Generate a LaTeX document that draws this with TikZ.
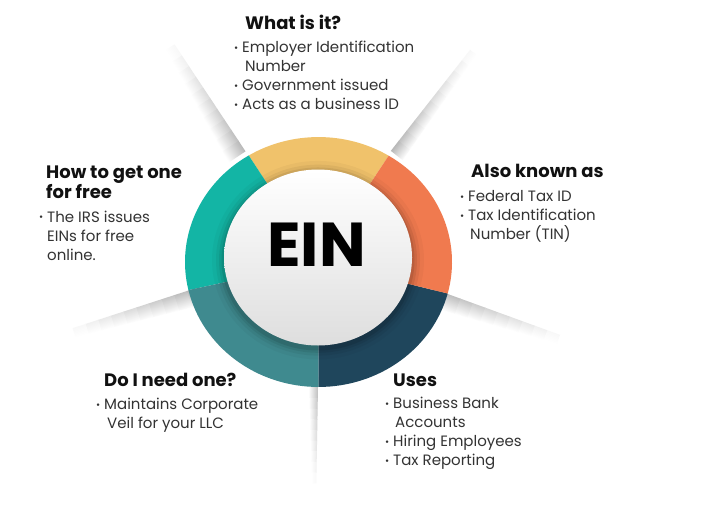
\documentclass[tikz,border=0pt]{standalone}
\usepackage{fontspec}
\setmainfont{Poppins}
\usetikzlibrary{positioning}

\definecolor{segyellow}{HTML}{F0C26B}
\definecolor{segorange}{HTML}{F07A4F}
\definecolor{segnavy}{HTML}{1F465C}
\definecolor{segslate}{HTML}{3F8A8F}
\definecolor{segteal}{HTML}{13B5A5}
\definecolor{headtext}{HTML}{111111}
\definecolor{bodytext}{HTML}{333333}

\newcommand\bul{\makebox[0pt][r]{\raisebox{1.2pt}{\fontsize{10}{10}\selectfont\textbullet}\hspace{4pt}}}

% x, y, angle, length, width, side
\newcommand\drawray[6]{%
  \begin{scope}[transform canvas={shift={(#1,#2)}, rotate=#3, yscale=#6}]
    \foreach \k in {0,...,9}{
      \pgfmathsetmacro\rayshade{28*(1-\k/10)}
      \pgfmathsetmacro\xa{-10+\k*(#4+10)/10}
      \pgfmathsetmacro\xb{-10+(\k+1)*(#4+10)/10+0.4}
      \pgfmathsetmacro\wa{#5*(1-0.05*\k)}
      \pgfmathsetmacro\wb{#5*(1-0.05*(\k+1))}
      \shade[bottom color=black!\rayshade, top color=white] (\xa,0) -- (\xb,0) -- (\xb,\wb) -- (\xa,\wa) -- cycle;
    }
  \end{scope}}

\begin{document}
\begin{tikzpicture}[
  x=1pt, y=1pt,
  head/.style={font=\fontsize{18}{18}\selectfont\bfseries, text=headtext, align=left, inner sep=0pt, anchor=north west},
  body/.style={font=\fontsize{15}{19}\selectfont, text=bodytext, align=left, inner sep=0pt},
  title/.style={font=\fontsize{62}{62}\selectfont\bfseries, text=black, inner sep=0pt}
]
\fill[white] (0,-507) rectangle (708,0);
\useasboundingbox (0,-507) rectangle (708,0);

% Rays
\drawray{240}{-143}{123.6}{118}{20}{1}
\drawray{397}{-143}{51.9}{118}{15}{-1}
\drawray{445}{-293}{-20}{122}{18}{-1}
\drawray{190}{-290}{198}{123}{18}{1}
\drawray{318}{-387}{-91}{96}{10}{-1}

% Ring
\begin{scope}[shift={(318.5,-262)}, yscale=0.936]
  \foreach \a/\b/\c in {58.3/121.5/segyellow, 121.5/193/segteal, 193/270/segslate, 270/345.4/segnavy, -14.6/58.3/segorange}
    \fill[\c] (0,0) -- (\a:133.5) arc[start angle=\a, end angle=\b, radius=133.5] -- cycle;
  \foreach \r/\o in {106/0.03, 102/0.05, 99/0.07, 96.5/0.09}
    \fill[black, opacity=\o] (-0.5,2) circle[radius=\r];
  \shade[top color=white, middle color=white, bottom color=black!13] (-0.5,4.8) circle[radius=94];
\end{scope}
\node[title] (ein) at (316.5,-245) {EIN};

% What is it
\node[head] (what) at (245,-14.4) {\strut What is it?};
\node[body, below right=4.3pt and -3pt of what.south west] (whatlist)
  {\strut\bul Employer Identification\\\hspace*{3pt}Number\\\bul Government issued\\\bul Acts as a business ID};

% How to get one
\node[head] (how) at (46,-165.4) {\strut How to get one\\\strut for free};
\node[body, below right=4.3pt and 1pt of how.south west] (howlist)
  {\strut\bul The IRS issues\\EINs for free\\online.};

% Also known as
\node[head] (also) at (471,-164.4) {\strut Also known as};
\node[body, below right=4.3pt and -3pt of also.south west] (alsolist)
  {\strut\bul Federal Tax ID\\\bul Tax Identification\\\hspace*{2pt}Number (TIN)};

% Do I need one
\node[head] (need) at (104,-373.4) {\strut Do I need one?};
\node[body, below right=3.3pt and 0pt of need.south west] (needlist)
  {\strut\bul Maintains Corporate\\\hspace*{3pt}Veil for your LLC};

% Uses
\node[head] (uses) at (393,-373.4) {\strut Uses};
\node[body, below right=3.3pt and 0pt of uses.south west] (useslist)
  {\strut\bul Business Bank\\\hspace*{2pt}Accounts\\\bul Hiring Employees\\\bul Tax Reporting};
\end{tikzpicture}
\end{document}
